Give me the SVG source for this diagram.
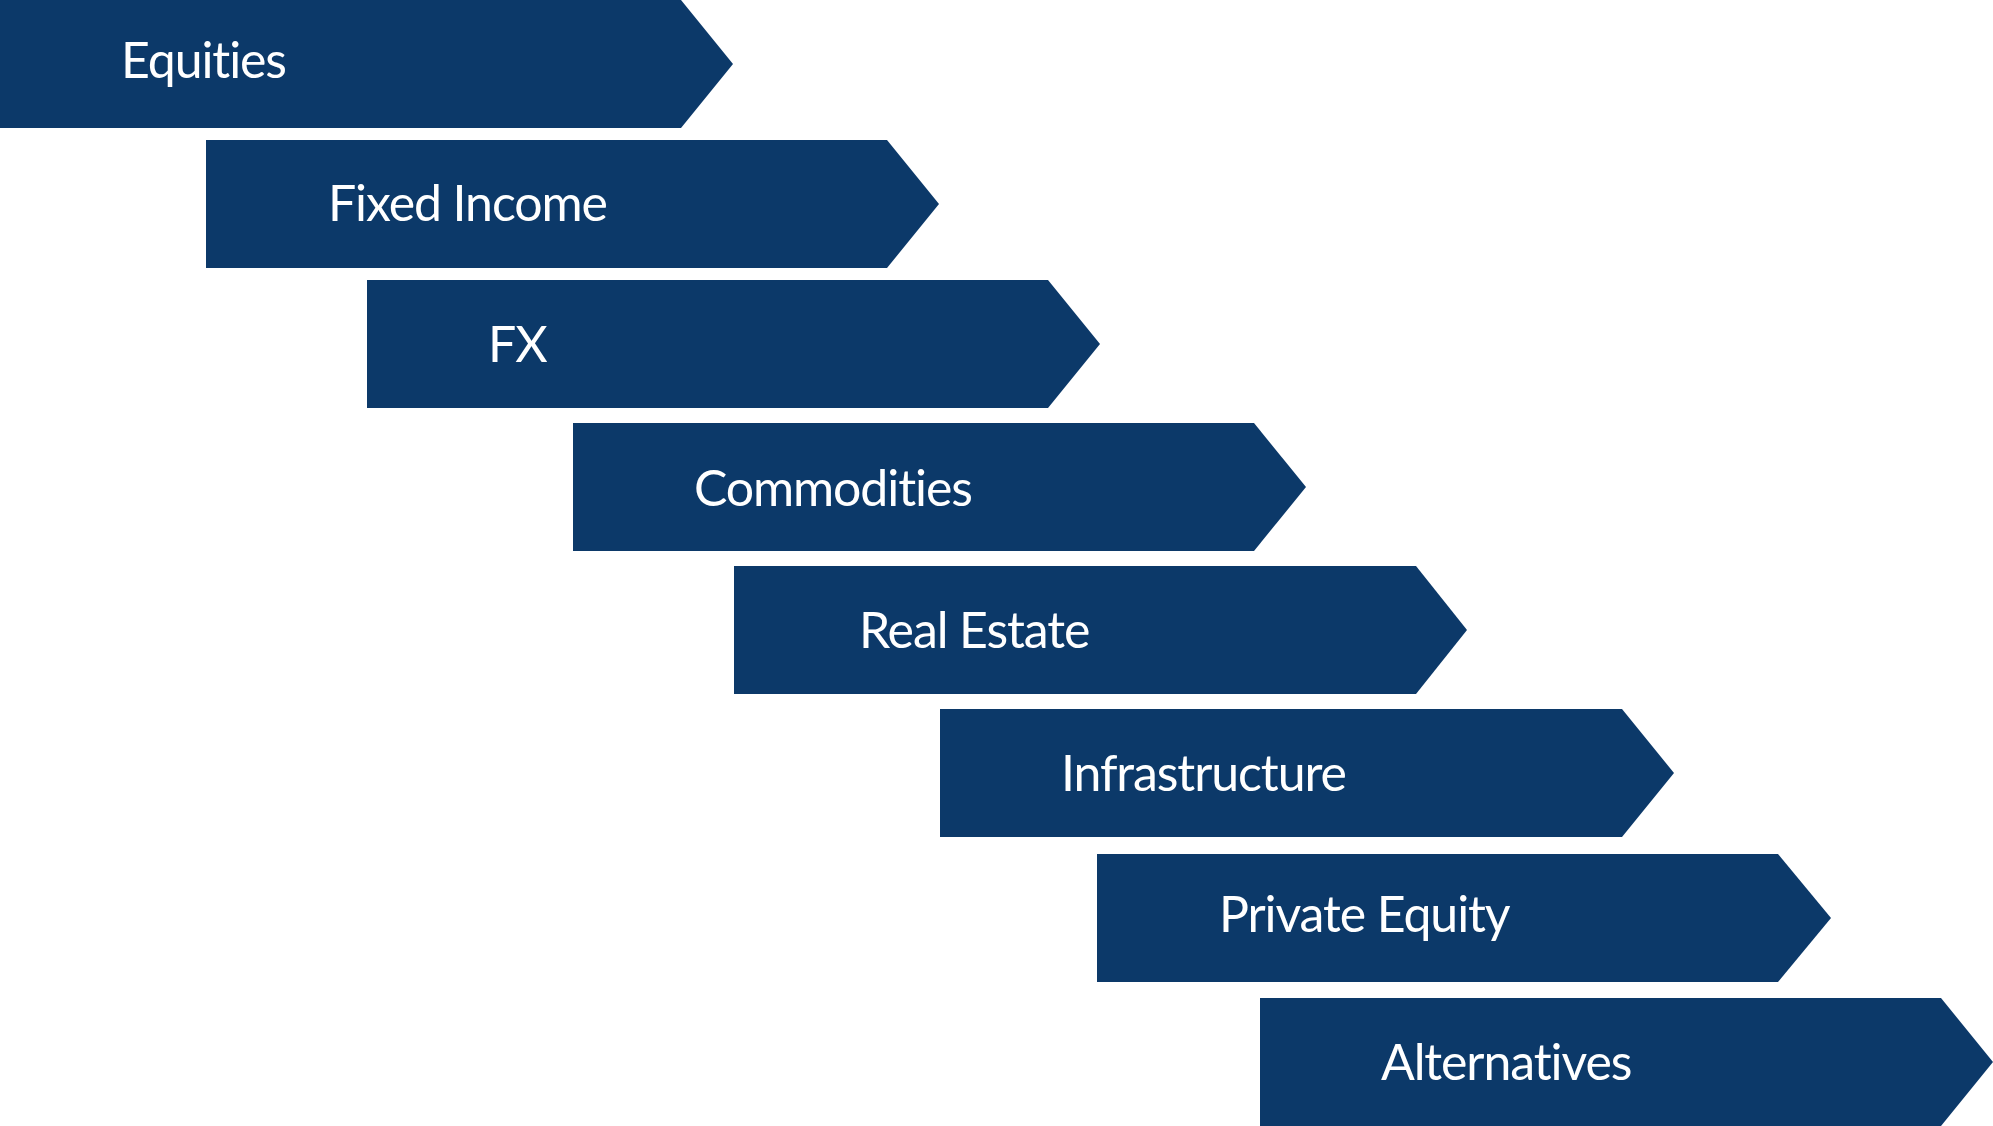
<svg xmlns="http://www.w3.org/2000/svg" width="1993" height="1126" viewBox="0 0 1993 1126">
<style>
.arrow{fill:#0c3969}
.lbl{fill:#ffffff;font-family:Lato,"Liberation Sans",sans-serif;font-size:50px;letter-spacing:-1.1px}
</style>
<rect width="1993" height="1126" fill="#ffffff"/>
<g id="node-equities"><polygon class="arrow" points="0,0 681,0 733,64 681,128 0,128"/><text class="lbl" x="121" y="78">Equities</text></g>
<g id="node-fixed-income"><polygon class="arrow" points="206,140 887,140 939,204 887,268 206,268"/><text class="lbl" x="328" y="221">Fixed Income</text></g>
<g id="node-fx"><polygon class="arrow" points="367,280 1048,280 1100,344 1048,408 367,408"/><text class="lbl" x="488" y="362">FX</text></g>
<g id="node-commodities"><polygon class="arrow" points="573,423 1254,423 1306,487 1254,551 573,551"/><text class="lbl" x="694" y="506">Commodities</text></g>
<g id="node-real-estate"><polygon class="arrow" points="734,566 1416,566 1467,630 1416,694 734,694"/><text class="lbl" x="859" y="648">Real Estate</text></g>
<g id="node-infrastructure"><polygon class="arrow" points="940,709 1622,709 1674,773 1622,837 940,837"/><text class="lbl" x="1061" y="791">Infrastructure</text></g>
<g id="node-private-equity"><polygon class="arrow" points="1097,854 1778,854 1831,918 1778,982 1097,982"/><text class="lbl" x="1219" y="932">Private Equity</text></g>
<g id="node-alternatives"><polygon class="arrow" points="1260,998 1941,998 1993,1062 1941,1126 1260,1126"/><text class="lbl" x="1381" y="1080">Alternatives</text></g>
<g id="connectors"></g>
</svg>
